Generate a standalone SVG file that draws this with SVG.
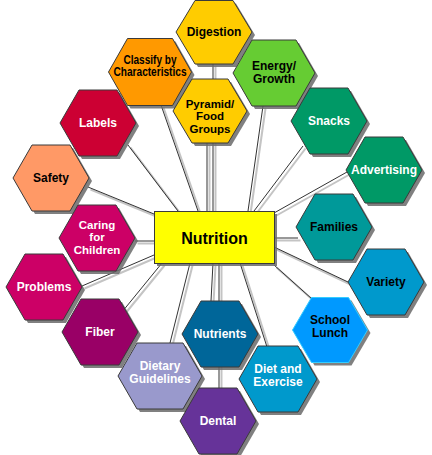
<svg xmlns="http://www.w3.org/2000/svg" width="432" height="455" viewBox="0 0 432 455">
<style>
.c{stroke:#333;stroke-width:1;fill:none}
.cs{stroke:#c4c4c4;stroke-width:2;fill:none}
.hs{fill:#6a6a6a;opacity:0.85}
.h{stroke:#3a3a3a;stroke-width:1}
text{font-family:"Liberation Sans",Arial,Helvetica,sans-serif;font-weight:bold;font-size:12px;text-anchor:middle}
.t3{font-size:11.5px}
.w{fill:#fff}
.k{fill:#000}
</style>
<rect width="432" height="455" fill="#fff"/>
<g id="connectors">
<g transform="translate(2.5,2.5)">
<line class="cs" x1="213" y1="64" x2="213" y2="211"/>
<line class="cs" x1="207" y1="143" x2="207" y2="211"/>
<line class="cs" x1="161" y1="105" x2="198" y2="211"/>
<line class="cs" x1="263" y1="106" x2="248" y2="211"/>
<line class="cs" x1="128" y1="145" x2="178" y2="211"/>
<line class="cs" x1="303" y1="146" x2="254" y2="211"/>
<line class="cs" x1="347" y1="172" x2="274" y2="213"/>
<line class="cs" x1="88" y1="187" x2="154" y2="214"/>
<line class="cs" x1="135" y1="241" x2="154" y2="241"/>
<line class="cs" x1="274" y1="238" x2="298" y2="238"/>
<line class="cs" x1="274" y1="247" x2="348" y2="282"/>
<line class="cs" x1="82" y1="286" x2="154" y2="255"/>
<line class="cs" x1="274" y1="265" x2="312" y2="299"/>
<line class="cs" x1="162" y1="263" x2="122" y2="312"/>
<line class="cs" x1="190" y1="263" x2="170" y2="343"/>
<line class="cs" x1="213" y1="263" x2="211" y2="301"/>
<line class="cs" x1="219" y1="263" x2="219" y2="388"/>
<line class="cs" x1="240" y1="263" x2="267" y2="347"/>
</g>
<line class="c" x1="213" y1="64" x2="213" y2="211"/>
<line class="c" x1="207" y1="143" x2="207" y2="211"/>
<line class="c" x1="161" y1="105" x2="198" y2="211"/>
<line class="c" x1="263" y1="106" x2="248" y2="211"/>
<line class="c" x1="128" y1="145" x2="178" y2="211"/>
<line class="c" x1="303" y1="146" x2="254" y2="211"/>
<line class="c" x1="347" y1="172" x2="274" y2="213"/>
<line class="c" x1="88" y1="187" x2="154" y2="214"/>
<line class="c" x1="135" y1="241" x2="154" y2="241"/>
<line class="c" x1="274" y1="238" x2="298" y2="238"/>
<line class="c" x1="274" y1="247" x2="348" y2="282"/>
<line class="c" x1="82" y1="286" x2="154" y2="255"/>
<line class="c" x1="274" y1="265" x2="312" y2="299"/>
<line class="c" x1="162" y1="263" x2="122" y2="312"/>
<line class="c" x1="190" y1="263" x2="170" y2="343"/>
<line class="c" x1="213" y1="263" x2="211" y2="301"/>
<line class="c" x1="219" y1="263" x2="219" y2="388"/>
<line class="c" x1="240" y1="263" x2="267" y2="347"/>
</g>
<g id="digestion">
<polygon class="hs" transform="translate(3,3)" points="176,32 195,0.5 233,0.5 252,32 233,64 195,64"/>
<polygon class="h" fill="#FFCC00" points="176,32 195,0.5 233,0.5 252,32 233,64 195,64"/>
<text class="k" x="214" y="36">Digestion</text>
</g>
<g id="classify">
<polygon class="hs" transform="translate(3,3)" points="108.5,72 127.5,38.5 172.5,38.5 191.5,72 172.5,105.5 127.5,105.5"/>
<polygon class="h" fill="#FF9900" points="108.5,72 127.5,38.5 172.5,38.5 191.5,72 172.5,105.5 127.5,105.5"/>
<text class="k" x="150" y="63.5" textLength="53" lengthAdjust="spacingAndGlyphs">Classify by</text>
<text class="k" x="150" y="76" textLength="73" lengthAdjust="spacingAndGlyphs">Characteristics</text>
</g>
<g id="energy">
<polygon class="hs" transform="translate(3,3)" points="233,73 252,40 296,40 315,73 296,106 252,106"/>
<polygon class="h" fill="#66CC33" points="233,73 252,40 296,40 315,73 296,106 252,106"/>
<text class="k" x="274" y="70">Energy/</text>
<text class="k" x="274" y="82.5">Growth</text>
</g>
<g id="pyramid">
<polygon class="hs" transform="translate(3,3)" points="173,111 192,79 228,79 247,111 228,143 192,143"/>
<polygon class="h" fill="#FFCC00" points="173,111 192,79 228,79 247,111 228,143 192,143"/>
<text class="k t3" x="210" y="107.5">Pyramid/</text>
<text class="k t3" x="210" y="120">Food</text>
<text class="k t3" x="210" y="132.5">Groups</text>
</g>
<g id="labels">
<polygon class="hs" transform="translate(3,3)" points="60,123 79,90 117,90 136,123 117,156 79,156"/>
<polygon class="h" fill="#CC0033" points="60,123 79,90 117,90 136,123 117,156 79,156"/>
<text class="w" x="98" y="127">Labels</text>
</g>
<g id="safety">
<polygon class="hs" transform="translate(3,3)" points="13,178 32,145 70,145 89,178 70,211 32,211"/>
<polygon class="h" fill="#FF9966" points="13,178 32,145 70,145 89,178 70,211 32,211"/>
<text class="k" x="51" y="182">Safety</text>
</g>
<g id="caring">
<polygon class="hs" transform="translate(3,3)" points="59,238 78,205 116,205 135,238 116,271 78,271"/>
<polygon class="h" fill="#CC0066" points="59,238 78,205 116,205 135,238 116,271 78,271"/>
<text class="w t3" x="97" y="228.5">Caring</text>
<text class="w t3" x="97" y="241">for</text>
<text class="w t3" x="97" y="253.5">Children</text>
</g>
<g id="problems">
<polygon class="hs" transform="translate(3,3)" points="6,287 25,254 63,254 82,287 63,320 25,320"/>
<polygon class="h" fill="#CC0066" points="6,287 25,254 63,254 82,287 63,320 25,320"/>
<text class="w" x="44" y="291">Problems</text>
</g>
<g id="fiber">
<polygon class="hs" transform="translate(3,3)" points="62,332 81,299 119,299 138,332 119,365 81,365"/>
<polygon class="h" fill="#990066" points="62,332 81,299 119,299 138,332 119,365 81,365"/>
<text class="w" x="100" y="336">Fiber</text>
</g>
<g id="dietary-guidelines">
<polygon class="hs" transform="translate(3,3)" points="118,376 137,343 183,343 202,376 183,409 137,409"/>
<polygon class="h" fill="#9999CC" points="118,376 137,343 183,343 202,376 183,409 137,409"/>
<text class="w" x="160" y="370">Dietary</text>
<text class="w" x="160" y="382.5">Guidelines</text>
</g>
<g id="dental">
<polygon class="hs" transform="translate(3,3)" points="180,421 199,388 237,388 256,421 237,454 199,454"/>
<polygon class="h" fill="#663399" points="180,421 199,388 237,388 256,421 237,454 199,454"/>
<text class="w" x="218" y="425">Dental</text>
</g>
<g id="nutrients">
<polygon class="hs" transform="translate(3,3)" points="182,334 201,301 239,301 258,334 239,367 201,367"/>
<polygon class="h" fill="#006699" points="182,334 201,301 239,301 258,334 239,367 201,367"/>
<text class="w" x="220" y="338">Nutrients</text>
</g>
<g id="diet-exercise">
<polygon class="hs" transform="translate(3,3)" points="239,379 258,346 298,346 317,379 298,412 258,412"/>
<polygon class="h" fill="#0099CC" points="239,379 258,346 298,346 317,379 298,412 258,412"/>
<text class="w" x="278" y="373">Diet and</text>
<text class="w" x="278" y="385.5">Exercise</text>
</g>
<g id="school-lunch">
<polygon class="hs" transform="translate(3,3)" points="292.5,330 311.5,297.5 348.5,297.5 367.5,330 348.5,362.5 311.5,362.5"/>
<polygon fill="#0099FF" stroke="#33CCFF" stroke-width="1" points="292.5,330 311.5,297.5 348.5,297.5 367.5,330 348.5,362.5 311.5,362.5"/>
<text class="k" x="330" y="324">School</text>
<text class="k" x="330" y="336.5">Lunch</text>
</g>
<g id="variety">
<polygon class="hs" transform="translate(3,3)" points="348,282 367,249 405,249 424,282 405,315 367,315"/>
<polygon class="h" fill="#0099CC" points="348,282 367,249 405,249 424,282 405,315 367,315"/>
<text class="k" x="386" y="286">Variety</text>
</g>
<g id="families">
<polygon class="hs" transform="translate(3,3)" points="296,227 315,194 353,194 372,227 353,260 315,260"/>
<polygon class="h" fill="#009999" points="296,227 315,194 353,194 372,227 353,260 315,260"/>
<text class="k" x="334" y="231">Families</text>
</g>
<g id="advertising">
<polygon class="hs" transform="translate(3,3)" points="346,170 365,137 403,137 422,170 403,203 365,203"/>
<polygon class="h" fill="#009966" points="346,170 365,137 403,137 422,170 403,203 365,203"/>
<text class="w" x="384" y="174">Advertising</text>
</g>
<g id="snacks">
<polygon class="hs" transform="translate(3,3)" points="291,121 310,88 348,88 367,121 348,154 310,154"/>
<polygon class="h" fill="#009966" points="291,121 310,88 348,88 367,121 348,154 310,154"/>
<text class="w" x="329" y="125">Snacks</text>
</g>
<g id="nutrition">
<rect x="157" y="214" width="120" height="52" fill="#6a6a6a" opacity="0.85"/>
<rect x="154.5" y="211.5" width="120" height="52" fill="#FFFF00" stroke="#3a3a3a" stroke-width="1"/>
<text class="k" x="214.5" y="244" style="font-size:16px">Nutrition</text>
</g>
</svg>
